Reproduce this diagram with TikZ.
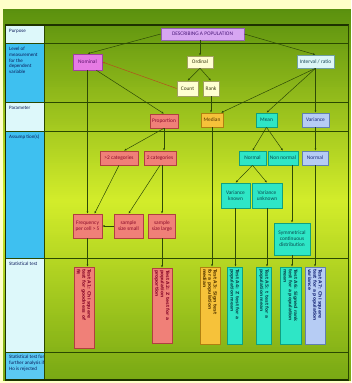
\documentclass[tikz,border=0pt]{standalone}
\usepackage{fontspec}
\setmainfont{Carlito}
\newfontfamily\testfont{DejaVu Sans}
\usetikzlibrary{arrows.meta,calc}
\definecolor{bgyellow}{HTML}{FFFFC8}
\definecolor{gtop}{HTML}{5A900E}
\definecolor{gmid}{HTML}{D2EC2A}
\definecolor{gbot}{HTML}{78A814}
\definecolor{rowline}{HTML}{2A4800}
\definecolor{lightcell}{HTML}{DDF8FA}
\definecolor{bluecell}{HTML}{3EC0F0}
\definecolor{labeltext}{HTML}{0A1A5A}
\definecolor{edgec}{HTML}{2E4A06}
\definecolor{redc}{HTML}{B4501E}
\definecolor{descfill}{HTML}{D7A6F2}\definecolor{descdraw}{HTML}{9060B0}\definecolor{desctext}{HTML}{4A1A7A}
\definecolor{nomfill}{HTML}{E67BE4}\definecolor{nomdraw}{HTML}{A040A0}\definecolor{nomtext}{HTML}{5A106A}
\definecolor{ordfill}{HTML}{FFFFD2}\definecolor{orddraw}{HTML}{A0A060}\definecolor{ordtext}{HTML}{3A3A10}
\definecolor{intfill}{HTML}{DDF6F6}\definecolor{intdraw}{HTML}{70A0A0}\definecolor{inttext}{HTML}{1A4A5A}
\definecolor{salfill}{HTML}{F08078}\definecolor{saldraw}{HTML}{B04040}\definecolor{saltext}{HTML}{8A0A2A}
\definecolor{medfill}{HTML}{F6C23A}\definecolor{meddraw}{HTML}{B08010}\definecolor{medtext}{HTML}{5A3A00}
\definecolor{meanfill}{HTML}{2EE6C6}\definecolor{meandraw}{HTML}{10A080}\definecolor{meantext}{HTML}{0A4A50}
\definecolor{varfill}{HTML}{B6CCF4}\definecolor{vardraw}{HTML}{6080B0}\definecolor{vartext}{HTML}{1A2A7A}
\tikzset{
  box/.style={rectangle, line width=0.6pt, inner sep=0.3pt, align=center,
    font=\fontsize{5.4}{5.9}\selectfont},
  descc/.style={fill=descfill, draw=descdraw, text=desctext},
  nomc/.style={fill=nomfill, draw=nomdraw, text=nomtext},
  ordc/.style={fill=ordfill, draw=orddraw, text=ordtext},
  intc/.style={fill=intfill, draw=intdraw, text=inttext},
  salc/.style={fill=salfill, draw=saldraw, text=saltext},
  medc/.style={fill=medfill, draw=meddraw, text=medtext},
  meanc/.style={fill=meanfill, draw=meandraw, text=meantext},
  varc/.style={fill=varfill, draw=vardraw, text=vartext},
  testbox/.style={rectangle, line width=0.6pt, inner sep=1pt, align=left, rotate=-90,
    font=\testfont\bfseries\fontsize{4.5}{5.3}\selectfont},
  conn/.style={draw=edgec, line width=0.5pt, -{Latex[length=2.4pt,width=2pt]}},
  rowlab/.style={anchor=north west, align=left, text=labeltext, inner sep=0pt,
    font=\fontsize{5}{5.7}\selectfont},
  rowrule/.style={draw=rowline, line width=0.8pt}
}
\begin{document}
\begin{tikzpicture}[x=1pt,y=-1pt]
\useasboundingbox (0,0) rectangle (351,383);
% background
\fill[bgyellow] (0,0) rectangle (351,383);
\foreach \i in {0,...,95}{
  \pgfmathtruncatemacro\p{100-\i*100/95}
  \fill[gtop!\p!gmid] (3,9+2*\i) rectangle (351,11.3+2*\i);
}
\foreach \i in {0,...,89}{
  \pgfmathtruncatemacro\p{\i*100/89}
  \fill[gbot!\p!gmid] (3,201+2*\i) rectangle (351,203.3+2*\i);
}
% left column cells
\fill[lightcell] (6,25) rectangle (44,43);
\fill[bluecell] (6,43) rectangle (44,102);
\fill[lightcell] (6,102) rectangle (44,131);
\fill[bluecell] (6,131) rectangle (44,258);
\fill[lightcell] (6,258) rectangle (44,352);
\fill[bluecell!85!white] (6,352) rectangle (44,380);
% frame
\draw[rowrule] (44,25) -- (44,380);
\draw[rowrule] (5,43) -- (348,43);
\draw[rowrule] (5,102) -- (348,102);
\draw[rowrule] (5,131) -- (348,131);
\draw[rowrule] (5,258) -- (348,258);
\draw[rowrule] (5,352) -- (348,352);
\draw[draw=rowline!70!black, line width=1.2pt] (5,25) -- (349,25);
\draw[draw=rowline!70!black, line width=1.2pt] (5,380) -- (349,380);
\draw[draw=rowline!70!black, line width=1pt] (5,25) -- (5,380);
\draw[draw=rowline, line width=0.8pt] (348,25) -- (348,380);
% row labels
\node[rowlab] (lpurp) at (9,29) {Purpose};
\node[rowlab] (llevel) at (9,47) {Level of\\measurement\\for the\\dependent\\variable};
\node[rowlab] (lparam) at (9,106) {Parameter};
\node[rowlab] (lassump) at (9,135) {Assump tion(s)};
\node[rowlab] (lstat) at (9,262) {Statistical test};
\node[rowlab] (lfurther) at (9,355) {Statistical test for\\further analysis if\\Ho is rejected};
% level
\node[box,descc,minimum width=83,minimum height=12] (desc) at (202.5,34) {DESCRIBING A POPULATION};
\node[box,nomc,minimum width=29,minimum height=16] (nominal) at (87.5,62) {Nominal};
\node[box,ordc,minimum width=26,minimum height=12] (ordinal) at (200,62) {Ordinal};
\node[box,ordc,minimum width=21,minimum height=15] (count) at (187.5,88.5) {Count};
\node[box,ordc,minimum width=16,minimum height=15] (rank) at (211,88.5) {Rank};
\node[box,intc,minimum width=37,minimum height=13] (interval) at (315.5,61.5) {Interval / ratio};
% parameter
\node[box,salc,minimum width=28,minimum height=14] (prop) at (164,121) {Proportion};
\node[box,medc,minimum width=22,minimum height=14] (median) at (212,120) {Median};
\node[box,meanc,minimum width=21,minimum height=14] (mean) at (266.5,120) {Mean};
\node[box,varc,minimum width=27,minimum height=14] (variance) at (315.5,120) {Variance};
% assumptions
\node[box,salc,minimum width=38,minimum height=14] (gt2) at (119,158) {>2 categories};
\node[box,salc,minimum width=32,minimum height=14] (two) at (160,158) {2 categories};
\node[box,salc,minimum width=29,minimum height=24] (freq) at (87.5,226) {Frequency\\per cell > 5};
\node[box,salc,minimum width=29,minimum height=24] (small) at (128.5,226) {sample\\size small};
\node[box,salc,minimum width=27,minimum height=24] (large) at (162,226) {sample\\size large};
\node[box,meanc,minimum width=27,minimum height=14] (normal) at (252.5,158) {Normal};
\node[box,meanc,minimum width=30,minimum height=14] (nonnormal) at (283,158) {Non normal};
\node[box,varc,minimum width=26,minimum height=14] (normv) at (315,158) {Normal};
\node[box,meanc,minimum width=29,minimum height=25] (vknown) at (235.5,195.5) {Variance\\known};
\node[box,meanc,minimum width=30,minimum height=25] (vunknown) at (267,195.5) {Variance\\unknown};
\node[box,meanc,minimum width=36,minimum height=32] (sym) at (292,239) {Symmetrical\\continuous\\distribution};
% tests
\node[testbox,salc,minimum width=81,minimum height=20,text width=77] (a1) at (84,307.5) {Test A1: Chi square\\test for goodness of\\fit};
\node[testbox,salc,minimum width=75,minimum height=20,text width=71] (a2) at (162,305.5) {Test A2: Z test for a\\population\\proportion};
\node[testbox,medc,minimum width=77,minimum height=20,text width=73] (a3) at (210,305.5) {Test A3: Sign test\\for a population\\median};
\node[testbox,meanc,minimum width=77,minimum height=15,text width=73] (a4) at (234.5,305.5) {Test A4: Z test for a\\population mean};
\node[testbox,meanc,minimum width=77,minimum height=15,text width=73] (a5) at (264,305.5) {Test A5: t test for a\\population mean};
\node[testbox,meanc,minimum width=77,minimum height=21,text width=73] (a6) at (290.5,305.5) {Test A6: Signed rank\\test for a population\\mean};
\node[testbox,varc,minimum width=77,minimum height=20,text width=73] (a7) at (315,305.5) {Test A7: Chi square\\test for a population\\variance};
% connectors
\draw[conn] (desc.west) -- (nominal.north);
\draw[conn] (desc.south -| ordinal.north) -- (ordinal.north);
\draw[conn] (desc.east) -- (interval.north);
\draw[conn] (ordinal.south) -- (count.north);
\draw[conn] (ordinal.south) -- (rank.north);
\draw[conn, draw=redc] (count.west) -- (nominal.east);
\draw[conn] ($(nominal.south)!0.6!(nominal.south east)$) -- (prop.north);
\draw[conn] (nominal.south) -- (freq.north);
\draw[conn] (rank.south) -- (rank.south |- median.north);
\draw[conn] (interval.south) -- ($(median.north)!0.8!(median.north east)$);
\draw[conn] (interval.south) -- (mean.north);
\draw[conn] (interval.south) -- (interval.south |- variance.north);
\draw[conn] (prop.south) -- ($(gt2.north)+(5,0)$);
\draw[conn] (prop.south) -- (prop.south |- two.north);
\draw[conn] (gt2.south) -- ($(freq.north)+(7,0)$);
\draw[conn] (two.south) -- (small.north);
\draw[conn] (large.north |- two.south) -- (large.north);
\draw[conn] (small.west) -- (freq.east);
\draw[conn] (freq.south) -- (freq.south |- a1.west);
\draw[conn] (large.south) -- (large.south |- a2.west);
\draw[conn] (median.south) -- (median.south |- a3.west);
\draw[conn] (mean.south) -- (normal.north);
\draw[conn] (mean.south) -- (nonnormal.north);
\draw[conn] (variance.south) -- (variance.south |- normv.north);
\draw[conn] (normal.south) -- (vknown.north);
\draw[conn] (normal.south) -- (vunknown.north);
\draw[conn] (sym.north |- nonnormal.south) -- (sym.north);
\draw[conn] (vknown.south) -- (vknown.south |- a4.west);
\draw[conn] (vunknown.south) -- (vunknown.south |- a5.west);
\draw[conn] (sym.south) -- (sym.south |- a6.west);
\draw[conn] (normv.south) -- (normv.south |- a7.west);
\end{tikzpicture}
\end{document}
